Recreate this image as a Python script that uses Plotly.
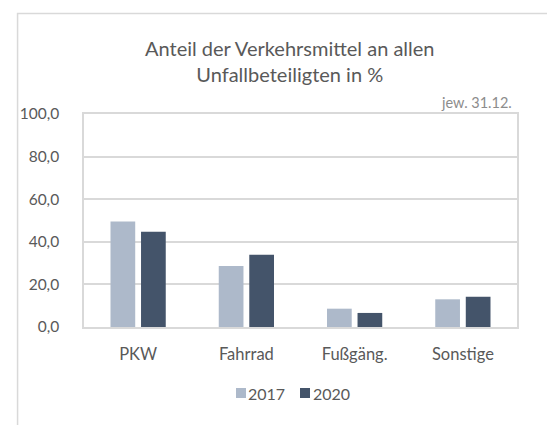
import plotly.graph_objects as go

categories = ["PKW", "Fahrrad", "Fußgäng.", "Sonstige"]
values_2017 = [49.5, 28.6, 8.6, 13.0]
values_2020 = [44.7, 33.9, 6.6, 14.2]
series_names = ["2017", "2020"]
series_colors = ["#ADB9CA", "#44546A"]
y_ticks = [0, 20, 40, 60, 80, 100]
y_tick_labels = ["0,0", "20,0", "40,0", "60,0", "80,0", "100,0"]
title_text = "Anteil der Verkehrsmittel an allen<br>Unfallbeteiligten in %"
note_text = "jew. 31.12."

FONT = "Lato"
TXT = "#595959"
GRID = "#D9D9D9"

fig = go.Figure()
for name, vals, col in zip(series_names, [values_2017, values_2020], series_colors):
    fig.add_trace(go.Bar(x=categories, y=vals, name=name,
                         marker=dict(color=col, line=dict(width=0))))

# page has an 8px body margin; figure sized to fill the window
W, H = 547, 417
L, R, T, B = 69, 38, 106, 98
pw, ph = W - L - R, H - T - B


def px(x):
    return (x - L) / pw


def py(y):
    return (H - B - y) / ph


fig.update_layout(
    width=W, height=H,
    margin=dict(l=L, r=R, t=T, b=B, pad=0),
    paper_bgcolor="white", plot_bgcolor="white",
    font=dict(family=FONT, color=TXT, size=15),
    barmode="group", bargap=0.436, bargroupgap=0.19,
    showlegend=False,
)

fig.update_xaxes(showgrid=False, showline=True, linecolor=GRID, linewidth=1.5,
                 mirror=True, ticks="", tickfont=dict(size=16.5, color=TXT),
                 ticklabelstandoff=11)
fig.update_yaxes(range=[0, 100], tickvals=y_ticks, ticktext=y_tick_labels,
                 showgrid=True, gridcolor=GRID, gridwidth=1.5,
                 showline=True, linecolor=GRID, linewidth=1.5, mirror=True,
                 zeroline=False, ticks="", tickfont=dict(size=15.5, color=TXT),
                 ticklabelstandoff=20)

# title
fig.add_annotation(text=title_text, xref="paper", yref="paper",
                   x=px(278), xanchor="center", y=py(53), yanchor="middle",
                   showarrow=False, align="center",
                   font=dict(family=FONT, size=20, color=TXT))

# note
fig.add_annotation(text=note_text, xref="paper", yref="paper",
                   x=px(506), xanchor="right", y=py(95), yanchor="middle",
                   showarrow=False, font=dict(family=FONT, size=14.5, color="#8C8C8C"))

# legend (custom, tight spacing)
leg_sq_x = [223, 288.5]
leg_y = 385
for name, col, sx in zip(series_names, series_colors, leg_sq_x):
    fig.add_annotation(text="", xref="paper", yref="paper",
                       x=px(sx), xanchor="left", y=py(leg_y), yanchor="middle",
                       showarrow=False, width=10, height=10, bgcolor=col,
                       borderpad=0, borderwidth=0)
    fig.add_annotation(text=name, xref="paper", yref="paper",
                       x=px(sx + 12), xanchor="left", y=py(leg_y), yanchor="middle",
                       showarrow=False, borderpad=0,
                       font=dict(family=FONT, size=16, color=TXT))

# outer chart-area border
fig.add_shape(type="rect", xref="paper", yref="paper",
              x0=px(1.5), x1=px(W + 20), y0=py(H + 20), y1=py(5.5),
              line=dict(color=GRID, width=1.5), fillcolor="rgba(0,0,0,0)",
              layer="below")

fig.write_html("out.html")
